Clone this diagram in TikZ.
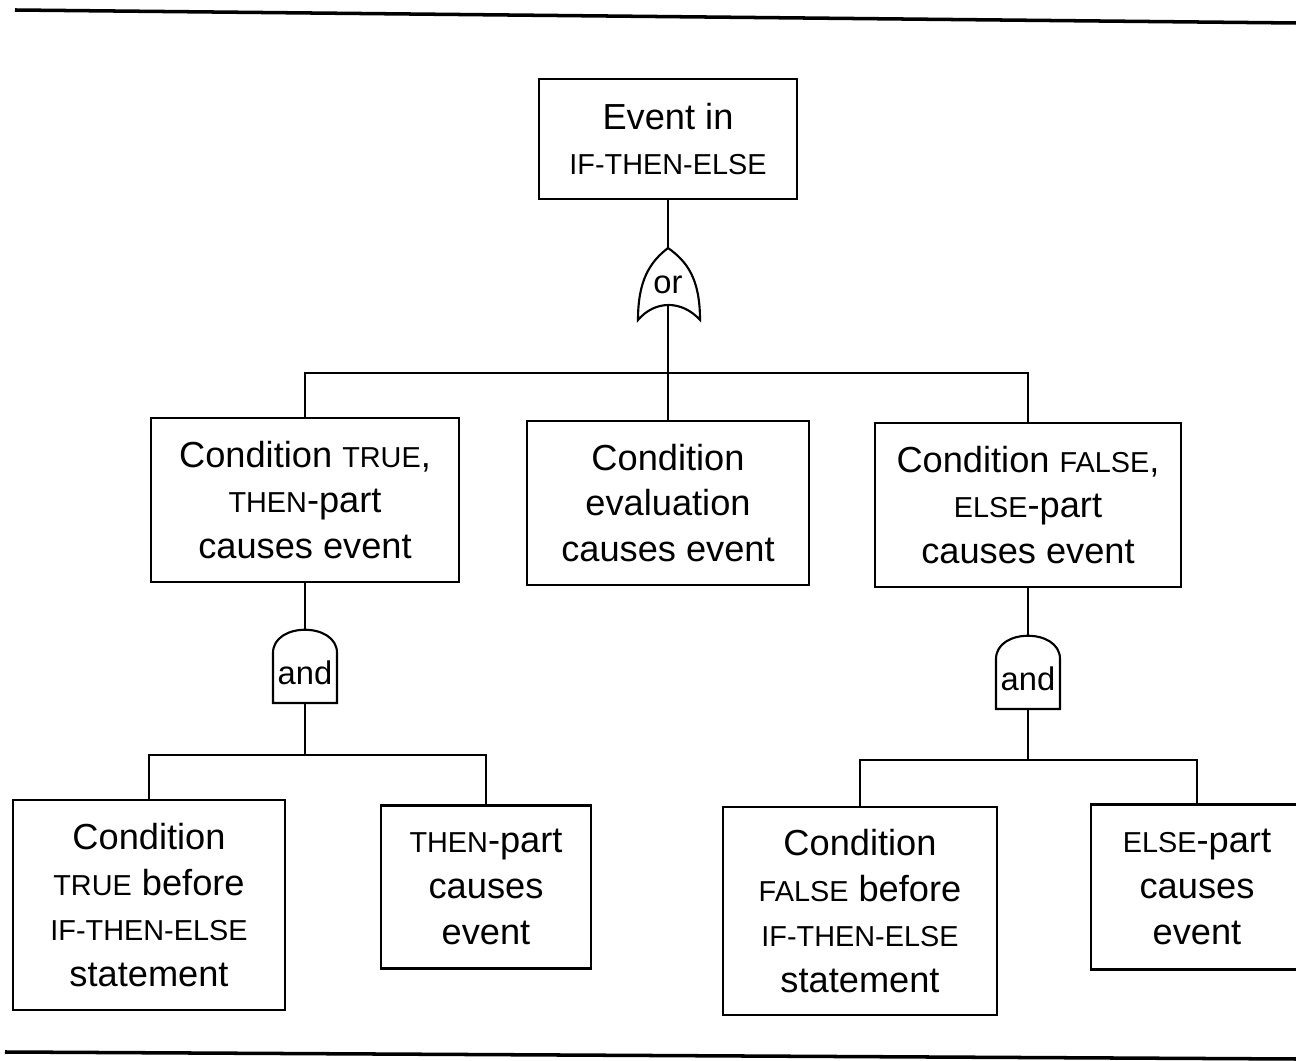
\documentclass[tikz,border=0pt]{standalone}
\usepackage{fontspec}
\setmainfont{Liberation Sans}
\usetikzlibrary{calc}
\newcommand{\kw}[1]{{\fontsize{8.2pt}{13pt}\selectfont #1}}
\tikzset{
  box/.style={draw, align=center, inner sep=0pt, font=\fontsize{10.3pt}{13pt}\selectfont},
  gatelabel/.style={inner sep=0pt, font=\fontsize{9.3pt}{11pt}\selectfont},
  gate/.style={draw, fill=white},
}
\begin{document}
\begin{tikzpicture}[x=0.01cm,y=-0.01cm,line width=0.6pt]
  \useasboundingbox (0,0) rectangle (1296,1061);
  % rules above and below
  \draw[line width=1pt] (15,10) -- (1296,23);
  \draw[line width=1pt] (5,1052) -- (1296,1059);
  % boxes
  \node[box, minimum width=2.57cm, minimum height=1.20cm] (event) at (668,139) {Event in\\\kw{IF-THEN-ELSE}};
  \node[box, minimum width=3.07cm, minimum height=1.64cm] (condtrue) at (305,500) {Condition \kw{TRUE},\\\kw{THEN}-part\\causes event};
  \node[box, minimum width=2.81cm, minimum height=1.64cm] (condeval) at (668,503) {Condition\\evaluation\\causes event};
  \node[box, minimum width=3.06cm, minimum height=1.64cm] (condfalse) at (1028,505) {Condition \kw{FALSE},\\\kw{ELSE}-part\\causes event};
  \node[box, minimum width=2.72cm, minimum height=2.10cm] (truebefore) at (149,905) {Condition\\\kw{TRUE} before\\\kw{IF-THEN-ELSE}\\statement};
  \node[box, minimum width=2.10cm, minimum height=1.63cm] (thenpart) at (486,887) {\kw{THEN}-part\\causes\\event};
  \node[box, minimum width=2.74cm, minimum height=2.07cm] (falsebefore) at (860,911) {Condition\\\kw{FALSE} before\\\kw{IF-THEN-ELSE}\\statement};
  \node[box, minimum width=2.12cm, minimum height=1.65cm] (elsepart) at (1197,887) {\kw{ELSE}-part\\causes\\event};
  % or gate
  \coordinate (orc) at (668,285);
  \coordinate (ortop) at ($(orc)+(0,-37)$);
  \coordinate (orbot) at ($(orc)+(0,21)$);
  \draw[gate] (ortop)
    .. controls +(-18,14) and +(0,-40) .. ($(orc)+(-30,35)$)
    .. controls +(17,-20) and +(-18,-20) .. ($(orc)+(32,35)$)
    .. controls +(0,-40) and +(20,14) .. (ortop);
  \node[gatelabel] (orgate) at (orc) {or};
  % and gates
  \coordinate (andlc) at (305,673);
  \coordinate (andltop) at ($(andlc)+(0,-43)$);
  \coordinate (andlbot) at ($(andlc)+(0,30)$);
  \draw[gate] ($(andlc)+(-32,30)$) -- ($(andlc)+(-32,-20)$)
    .. controls +(0,-31) and +(0,-31) .. ($(andlc)+(32,-20)$)
    -- ($(andlc)+(32,30)$) -- cycle;
  \node[gatelabel] (andleft) at (andlc) {and};
  \coordinate (andrc) at (1028,679);
  \coordinate (andrtop) at ($(andrc)+(0,-43)$);
  \coordinate (andrbot) at ($(andrc)+(0,30)$);
  \draw[gate] ($(andrc)+(-32,30)$) -- ($(andrc)+(-32,-20)$)
    .. controls +(0,-31) and +(0,-31) .. ($(andrc)+(32,-20)$)
    -- ($(andrc)+(32,30)$) -- cycle;
  \node[gatelabel] (andright) at (andrc) {and};
  % connectors
  \coordinate (topbar) at (668,373);
  \coordinate (leftbar) at (305,755);
  \coordinate (rightbar) at (1028,760);
  \draw (event.south) -- (ortop);
  \draw (condtrue.north) |- (topbar) -| (condfalse.north);
  \draw (orbot) -- (topbar) -- (condeval.north);
  \draw (condtrue.south) -- (andltop);
  \draw (andlbot) -- (leftbar);
  \draw (truebefore.north) |- (leftbar) -| (thenpart.north);
  \draw (condfalse.south) -- (andrtop);
  \draw (andrbot) -- (rightbar);
  \draw (falsebefore.north) |- (rightbar) -| (elsepart.north);
\end{tikzpicture}
\end{document}
